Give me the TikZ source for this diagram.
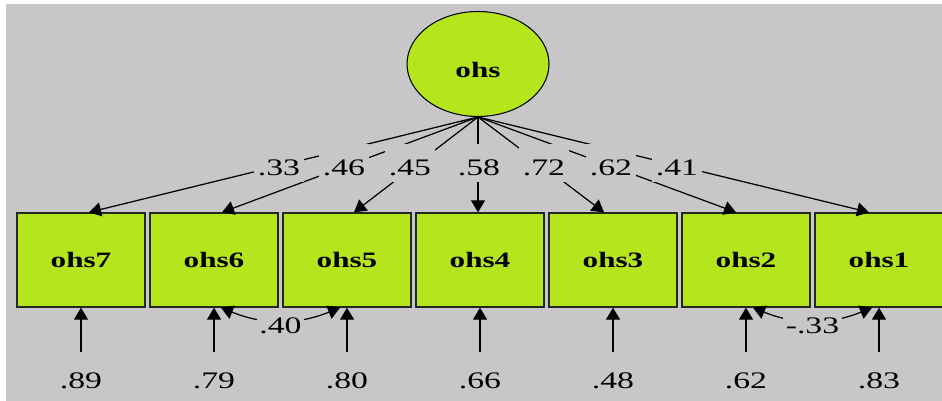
\documentclass[tikz,border=0pt]{standalone}
\usepackage{fontspec}
\setmainfont[FakeStretch=1.42]{Liberation Serif}
\usepackage{tikz}
\usetikzlibrary{arrows.meta,calc,shapes.geometric}
\definecolor{semgrey}{RGB}{199,199,199}
\definecolor{semlime}{RGB}{181,229,29}
\newcommand{\coeffont}{\fontsize{13.5}{16}\selectfont}
\newcommand{\varfont}{\fontsize{12.5}{15}\selectfont\bfseries}
\tikzset{
  >={Triangle[length=2.4mm,width=2.8mm]},
  loading/.style={->, line width=0.7pt, draw=black},
  covar/.style={<->, line width=0.7pt, draw=black},
  latent/.style={
    ellipse,
    draw=black,
    line width=0.6pt,
    fill=semlime,
    minimum width=2.84cm,
    minimum height=2.1cm,
    inner sep=0pt,
    text height=0.54cm,
    text depth=0pt,
    font=\varfont
  },
  observed/.style={
    rectangle,
    draw=black!85,
    line width=0.8pt,
    fill=semlime,
    minimum width=2.56cm,
    minimum height=1.88cm,
    inner sep=0pt,
    font=\varfont
  },
  coef/.style={fill=semgrey, inner sep=1.5pt, font=\coeffont},
  loadlabel/.style={coef, inner ysep=0pt, inner xsep=2pt, text height=0.64cm, text depth=0.12cm, anchor=base},
  errval/.style={inner sep=1pt, font=\coeffont, anchor=base}
}
\begin{document}
\begin{tikzpicture}[x=0.02cm,y=-0.02cm]
\useasboundingbox (0,0) rectangle (942,401);
\fill[semgrey] (6,4) rectangle (942,401);
\node[latent] (ohs) at (478,64) {ohs};
\foreach \n/\x/\tip/\e in {7/81/8/.89,6/214/8/.79,5/347/7/.80,4/480/-2/.66,3/613/-9/.48,2/746/-10/.62,1/879/-10/.83}{
  \node[observed] (o\n) at (\x,260) {ohs\n};
  \draw[loading] (ohs.south) -- ($(o\n.north)+(\tip,0)$);
  \node[errval] (v\n) at (\x,388) {\e};
  \coordinate (s\n) at (\x,352);
  \draw[loading] (s\n) -- (o\n.south);
}
\foreach \n/\lx/\l in {7/279/.33,6/344/.46,5/410/.45,4/479/.58,3/544/.72,2/611/.62,1/677/.41}{
  \node[loadlabel] (c\n) at (\lx,176) {\l};
}
\draw[covar] ([xshift=0.14cm]o6.south) to[bend right=22] node[coef,yshift=-0.1cm] (r65) {.40} ([xshift=-0.14cm]o5.south);
\draw[covar] ([xshift=0.14cm]o2.south) to[bend right=22] node[coef,yshift=-0.1cm] (r21) {-.33} ([xshift=-0.14cm]o1.south);
\end{tikzpicture}
\end{document}
